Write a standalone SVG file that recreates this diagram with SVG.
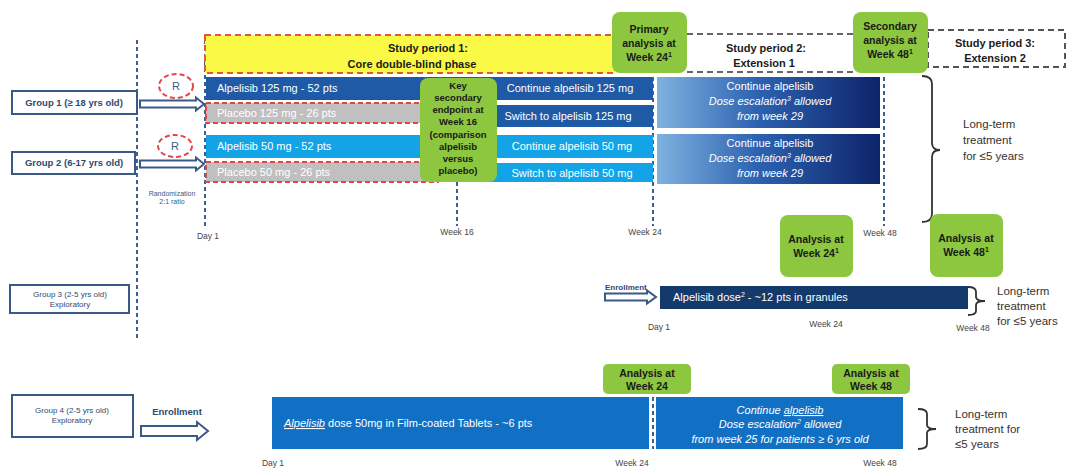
<svg xmlns="http://www.w3.org/2000/svg" width="1082" height="469" viewBox="0 0 1082 469">
<defs>
<linearGradient id="ext" x1="0" y1="0" x2="1" y2="0">
<stop offset="0" stop-color="#7fb2e0"/>
<stop offset="0.45" stop-color="#2d62b0"/>
<stop offset="1" stop-color="#0d246a"/>
</linearGradient>
<style>
text{font-family:"Liberation Sans",Arial,sans-serif}
.grp{fill:#fff;stroke:#3a5a85;stroke-width:2}
.gl{font-size:9.5px;font-weight:bold;fill:#2f4a6e;text-anchor:middle}
.gl2{font-size:8px;fill:#2f4a6e;text-anchor:middle}
.w{fill:#fff;font-size:11px}
.wc{fill:#fff;font-size:11px;text-anchor:middle}
.wi{fill:#fff;font-size:11px;text-anchor:middle;font-style:italic}
.gr{fill:#8dc63f}
.gt{font-size:10.5px;font-weight:bold;fill:#1a1a1a;text-anchor:middle}
.kt{font-size:9.5px;font-weight:bold;fill:#1a1a1a;text-anchor:middle}
.sp{font-size:11px;font-weight:bold;fill:#1a1a1a;text-anchor:middle}
.lab{font-size:8.5px;fill:#444;text-anchor:middle}
.rnd{font-size:7px;fill:#3a5a85;text-anchor:middle}
.lt{font-size:11.5px;fill:#333}
.vd{stroke:#3d5f93;stroke-width:2;stroke-dasharray:4 3;fill:none}
.arr{fill:#fff;stroke:#3a5a85;stroke-width:2}
.br{fill:none;stroke:#333;stroke-width:1.8}
.pl{fill:#c0c0c0;stroke:#e04848;stroke-width:2;stroke-dasharray:5 3}
.rc{fill:none;stroke:#e04848;stroke-width:2;stroke-dasharray:5 3}
</style>
</defs>
<rect width="1082" height="469" fill="#fff"/>

<g id="connectors">
<line class="vd" x1="137" y1="40" x2="137" y2="340"/>
<line class="vd" x1="205" y1="40" x2="205" y2="226"/>
<line class="vd" x1="457" y1="182" x2="457" y2="226"/>
<line class="vd" x1="653" y1="77" x2="653" y2="226"/>
<line class="vd" x1="884" y1="77" x2="884" y2="226"/>
<line class="vd" x1="653" y1="397" x2="653" y2="449"/>
<path class="arr" d="M140,100.5 L196,100.5 L196,97.5 L204,104 L196,110.5 L196,107.5 L140,107.5 Z"/>
<path class="arr" d="M140,160.5 L196,160.5 L196,157.5 L204,164 L196,170.5 L196,167.5 L140,167.5 Z"/>
<path class="arr" d="M605,293.5 L647,293.5 L647,290.5 L656,297 L647,303.5 L647,300.5 L605,300.5 Z"/>
<path class="arr" d="M141,426 L197,426 L197,422 L208,431 L197,440 L197,436 L141,436 Z"/>
<path class="br" d="M922,76 Q932,76 932,84 L932,143 Q932,150 940,150 Q932,150 932,157 L932,214 Q932,222 922,222"/>
<path class="br" d="M968,287 Q976,287 976,292 L976,297 Q976,301 985,301 Q976,301 976,305 L976,311 Q976,315 968,315"/>
<path class="br" d="M918,409 Q927,409 927,414 L927,425 Q927,429 936,429 Q927,429 927,433 L927,444 Q927,449 918,449"/>
</g>

<g id="period1">
<rect x="205" y="35" width="410" height="38" fill="#fafa46" stroke="#e05a3c" stroke-width="2" stroke-dasharray="6 4"/>
<text class="sp" x="428" y="52">Study period 1:</text>
<text class="sp" x="412" y="68">Core double-blind phase</text>
</g>
<g id="period2">
<path d="M687,34 L855,34 M687,72 L855,72" stroke="#666" stroke-width="2" stroke-dasharray="6 4" fill="none"/>
<text class="sp" x="766" y="52">Study period  2:</text>
<text class="sp" x="764" y="67">Extension 1</text>
</g>
<g id="period3">
<rect x="928" y="30" width="137" height="37" fill="none" stroke="#555" stroke-width="2" stroke-dasharray="6 4"/>
<text class="sp" x="995" y="47">Study period  3:</text>
<text class="sp" x="995" y="62">Extension 2</text>
</g>

<g id="primary">
<rect class="gr" x="612" y="12" width="75" height="61" rx="8"/>
<text class="gt" x="649" y="33">Primary</text>
<text class="gt" x="649" y="47">analysis at</text>
<text class="gt" x="649" y="61">Week 24<tspan font-size="7" dy="-4">1</tspan></text>
</g>
<g id="secondary">
<rect class="gr" x="853" y="12" width="75" height="61" rx="8"/>
<text class="gt" x="890" y="30">Secondary</text>
<text class="gt" x="890" y="44">analysis at</text>
<text class="gt" x="890" y="58">Week 48<tspan font-size="7" dy="-4">1</tspan></text>
</g>

<g id="group1">
<rect class="grp" x="12" y="91" width="125" height="23"/>
<text class="gl" x="74" y="106">Group 1 (≥ 18 yrs old)</text>
</g>
<g id="group2">
<rect class="grp" x="12" y="152" width="123" height="22"/>
<text class="gl" x="74" y="166" font-size="9">Group 2 (6-17 yrs old)</text>
</g>
<g id="r1"><ellipse class="rc" cx="176" cy="86" rx="17" ry="12"/><text x="176" y="90" font-size="11" fill="#3a5a85" text-anchor="middle">R</text></g>
<g id="r2"><ellipse class="rc" cx="175" cy="146" rx="17" ry="11"/><text x="175" y="150" font-size="11" fill="#3a5a85" text-anchor="middle">R</text></g>
<g id="randomization">
<text class="rnd" x="172" y="196">Randomization</text>
<text class="rnd" x="172" y="204">2:1 ratio</text>
</g>

<g id="arm1">
<rect x="206" y="77" width="447" height="23" fill="#1e5aa6"/>
<text class="w" x="217" y="92">Alpelisib 125 mg - 52 pts</text>
<text class="wc" x="570" y="92">Continue alpelisib 125 mg</text>
</g>
<g id="arm2">
<rect class="pl" x="206" y="103" width="232" height="20"/>
<text class="w" x="217" y="117" fill="#eee">Placebo 125 mg  - 26 pts</text>
<rect x="490" y="105" width="163" height="22" fill="#1e5aa6"/>
<text class="wc" x="568" y="120">Switch to alpelisib 125 mg</text>
</g>
<g id="arm3">
<rect x="206" y="135" width="447" height="23" fill="#12a4e6"/>
<text class="w" x="217" y="150">Alpelisib 50 mg - 52 pts</text>
<text class="wc" x="572" y="150">Continue alpelisib 50 mg</text>
</g>
<g id="arm4">
<rect class="pl" x="206" y="162" width="232" height="20"/>
<text class="w" x="217" y="176" fill="#eee">Placebo 50 mg  - 26 pts</text>
<rect x="490" y="163" width="163" height="19" fill="#12a4e6"/>
<text class="wc" x="572" y="177">Switch to alpelisib 50 mg</text>
</g>
<g id="keysecondary">
<rect class="gr" x="420" y="78" width="77" height="104" rx="8"/>
<text class="kt" x="458" y="89">Key</text>
<text class="kt" x="458" y="101">secondary</text>
<text class="kt" x="458" y="113">endpoint at</text>
<text class="kt" x="458" y="125">Week 16</text>
<text class="kt" x="458" y="138">(comparison</text>
<text class="kt" x="458" y="150">alpelisib</text>
<text class="kt" x="458" y="162">versus</text>
<text class="kt" x="458" y="174">placebo)</text>
</g>

<g id="ext1">
<rect x="657" y="77" width="223" height="51" fill="url(#ext)"/>
<text class="wc" x="770" y="90">Continue alpelisib</text>
<text class="wi" x="770" y="105">Dose escalation<tspan font-size="7" dy="-4">3</tspan><tspan dy="4"> allowed</tspan></text>
<text class="wi" x="770" y="120">from week 29</text>
</g>
<g id="ext2">
<rect x="657" y="134" width="223" height="50" fill="url(#ext)"/>
<text class="wc" x="770" y="147">Continue alpelisib</text>
<text class="wi" x="770" y="162">Dose escalation<tspan font-size="7" dy="-4">3</tspan><tspan dy="4"> allowed</tspan></text>
<text class="wi" x="770" y="177">from week 29</text>
</g>

<g id="labels-top">
<text class="lab" x="208" y="239">Day 1</text>
<text class="lab" x="457" y="235">Week 16</text>
<text class="lab" x="645" y="235">Week 24</text>
<text class="lab" x="880" y="236">Week 48</text>
</g>

<g id="longterm1">
<text class="lt" x="963" y="128">Long-term</text>
<text class="lt" x="963" y="144">treatment</text>
<text class="lt" x="963" y="160">for ≤5 years</text>
</g>

<g id="analysis24">
<rect class="gr" x="780" y="215" width="73" height="62" rx="8"/>
<text class="gt" x="816" y="243">Analysis at</text>
<text class="gt" x="816" y="257">Week 24<tspan font-size="7" dy="-4">1</tspan></text>
</g>
<g id="analysis48">
<rect class="gr" x="930" y="214" width="73" height="63" rx="8"/>
<text class="gt" x="966" y="242">Analysis at</text>
<text class="gt" x="966" y="256">Week 48<tspan font-size="7" dy="-4">1</tspan></text>
</g>

<g id="group3">
<rect class="grp" x="10" y="285" width="119" height="28"/>
<text class="gl2" x="70" y="297">Group 3 (2-5 yrs old)</text>
<text class="gl2" x="70" y="307">Exploratory</text>
</g>
<g id="enroll3">
<text x="605" y="290" font-size="8" font-weight="bold" fill="#2f4a6e">Enrollment</text>
</g>
<g id="arm-g3">
<rect x="660" y="286" width="308" height="23" fill="#143a6c"/>
<text class="w" x="673" y="301">Alpelisib dose<tspan font-size="7" dy="-4">2</tspan><tspan dy="4"> - ~12 pts in granules</tspan></text>
</g>
<g id="labels-g3">
<text class="lab" x="659" y="330">Day 1</text>
<text class="lab" x="826" y="327">Week 24</text>
<text class="lab" x="973" y="331">Week 48</text>
</g>
<g id="longterm3">
<text class="lt" x="997" y="295">Long-term</text>
<text class="lt" x="997" y="310">treatment</text>
<text class="lt" x="997" y="325">for ≤5 years</text>
</g>

<g id="group4">
<rect class="grp" x="12" y="395" width="121" height="42"/>
<text class="gl2" x="72" y="413">Group 4 (2-5 yrs old)</text>
<text class="gl2" x="72" y="423">Exploratory</text>
</g>
<g id="enroll4">
<text x="177" y="415" font-size="9.5" font-weight="bold" fill="#2f4a6e" text-anchor="middle">Enrollment</text>
</g>
<g id="arm-g4a">
<rect x="272" y="397" width="377" height="52" fill="#1170c4"/>
<text class="w" x="284" y="427" font-size="10.5"><tspan text-decoration="underline" font-style="italic">Alpelisib</tspan> dose 50mg in Film-coated Tablets - ~6 pts</text>
</g>
<g id="arm-g4b">
<rect x="656" y="397" width="247" height="52" fill="#1170c4"/>
<text class="wi" x="780" y="414">Continue <tspan text-decoration="underline">alpelisib</tspan></text>
<text class="wi" x="780" y="428">Dose escalation<tspan font-size="7" dy="-4">2</tspan><tspan dy="4"> allowed</tspan></text>
<text class="wi" x="780" y="443">from week 25 for patients ≥ 6 yrs old</text>
</g>
<g id="analysis24b">
<rect class="gr" x="603" y="364" width="88" height="30" rx="5"/>
<text class="gt" x="647" y="377">Analysis at</text>
<text class="gt" x="647" y="390">Week 24</text>
</g>
<g id="analysis48b">
<rect class="gr" x="832" y="364" width="78" height="30" rx="5"/>
<text class="gt" x="871" y="377">Analysis at</text>
<text class="gt" x="871" y="390">Week 48</text>
</g>
<g id="labels-g4">
<text class="lab" x="273" y="466">Day 1</text>
<text class="lab" x="632" y="466">Week 24</text>
<text class="lab" x="880" y="466">Week 48</text>
</g>
<g id="longterm4">
<text class="lt" x="955" y="418" font-size="12">Long-term</text>
<text class="lt" x="955" y="433" font-size="12">treatment for</text>
<text class="lt" x="955" y="448" font-size="12">≤5 years</text>
</g>
</svg>
